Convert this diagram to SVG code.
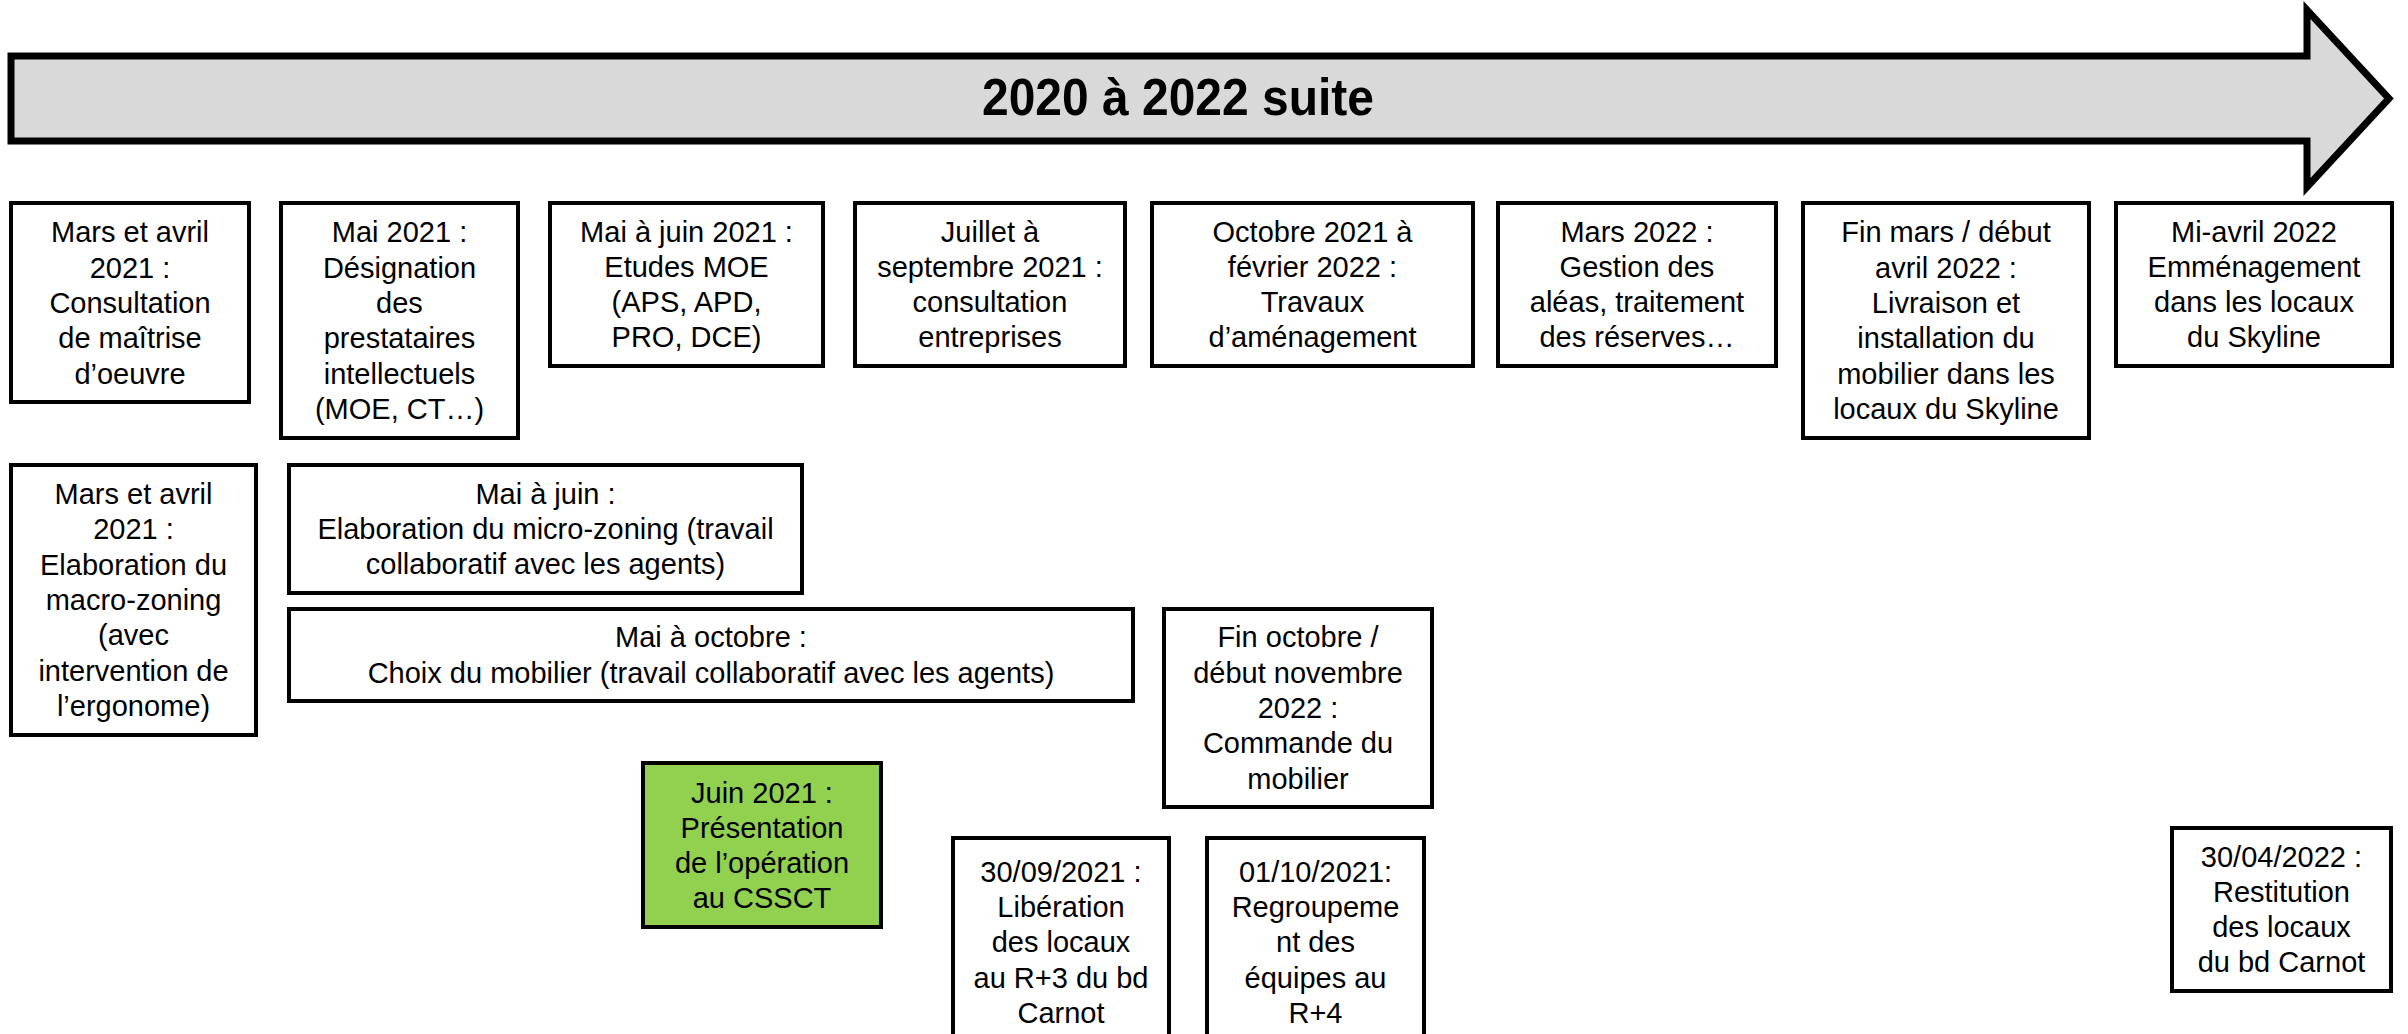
<svg xmlns="http://www.w3.org/2000/svg" width="2408" height="1034" viewBox="0 0 2408 1034">
<style>
.box{fill:#ffffff;stroke:#000000;stroke-width:4}
.green{fill:#92d050;stroke:#000000;stroke-width:4}
.t{font-family:"Liberation Sans",Arial,sans-serif;font-size:29px;fill:#000000;text-anchor:middle}
.title{font-family:"Liberation Sans",Arial,sans-serif;font-size:52px;font-weight:bold;fill:#000000;text-anchor:middle}
</style>
<rect width="2408" height="1034" fill="#ffffff"/>
<g id="timeline">
<path d="M11,56 L2307,56 L2307,10 L2389,98.5 L2307,187 L2307,141 L11,141 Z" fill="#d9d9d9" stroke="#000000" stroke-width="7" stroke-linejoin="miter"/>
<text class="title" x="1178" y="115" textLength="392" lengthAdjust="spacingAndGlyphs">2020 à 2022 suite</text>
</g>
<g id="connectors"></g>
<g id="n1"><rect class="box" x="11" y="203" width="238" height="199"/>
<text class="t" x="130"><tspan x="130" y="242.4">Mars et avril</tspan><tspan x="130" y="277.7">2021 :</tspan><tspan x="130" y="313">Consultation</tspan><tspan x="130" y="348.3">de maîtrise</tspan><tspan x="130" y="383.6">d’oeuvre</tspan></text></g>
<g id="n2"><rect class="box" x="281" y="203" width="237" height="235"/>
<text class="t"><tspan x="399.5" y="242.3">Mai 2021 :</tspan><tspan x="399.5" y="277.6">Désignation</tspan><tspan x="399.5" y="312.9">des</tspan><tspan x="399.5" y="348.2">prestataires</tspan><tspan x="399.5" y="383.5">intellectuels</tspan><tspan x="399.5" y="418.8">(MOE, CT…)</tspan></text></g>
<g id="n3"><rect class="box" x="550" y="203" width="273" height="163"/>
<text class="t"><tspan x="686.5" y="241.5">Mai à juin 2021 :</tspan><tspan x="686.5" y="276.8">Etudes MOE</tspan><tspan x="686.5" y="312.1">(APS, APD,</tspan><tspan x="686.5" y="347.4">PRO, DCE)</tspan></text></g>
<g id="n4"><rect class="box" x="855" y="203" width="270" height="163"/>
<text class="t"><tspan x="990" y="241.5">Juillet à</tspan><tspan x="990" y="276.8">septembre 2021 :</tspan><tspan x="990" y="312.1">consultation</tspan><tspan x="990" y="347.4">entreprises</tspan></text></g>
<g id="n5"><rect class="box" x="1152" y="203" width="321" height="163"/>
<text class="t"><tspan x="1312.5" y="241.5">Octobre 2021 à</tspan><tspan x="1312.5" y="276.8">février 2022 :</tspan><tspan x="1312.5" y="312.1">Travaux</tspan><tspan x="1312.5" y="347.4">d’aménagement</tspan></text></g>
<g id="n6"><rect class="box" x="1498" y="203" width="278" height="163"/>
<text class="t"><tspan x="1637" y="241.5">Mars 2022 :</tspan><tspan x="1637" y="276.8">Gestion des</tspan><tspan x="1637" y="312.1">aléas, traitement</tspan><tspan x="1637" y="347.4">des réserves…</tspan></text></g>
<g id="n7"><rect class="box" x="1803" y="203" width="286" height="235"/>
<text class="t"><tspan x="1946" y="242.3">Fin mars / début</tspan><tspan x="1946" y="277.6">avril 2022 :</tspan><tspan x="1946" y="312.9">Livraison et</tspan><tspan x="1946" y="348.2">installation du</tspan><tspan x="1946" y="383.5">mobilier dans les</tspan><tspan x="1946" y="418.8">locaux du Skyline</tspan></text></g>
<g id="n8"><rect class="box" x="2116" y="203" width="276" height="163"/>
<text class="t"><tspan x="2254" y="241.5">Mi-avril 2022</tspan><tspan x="2254" y="276.8">Emménagement</tspan><tspan x="2254" y="312.1">dans les locaux</tspan><tspan x="2254" y="347.4">du Skyline</tspan></text></g>
<g id="n9"><rect class="box" x="11" y="465" width="245" height="270"/>
<text class="t"><tspan x="133.5" y="504.1">Mars et avril</tspan><tspan x="133.5" y="539.4">2021 :</tspan><tspan x="133.5" y="574.7">Elaboration du</tspan><tspan x="133.5" y="610">macro-zoning</tspan><tspan x="133.5" y="645.3">(avec</tspan><tspan x="133.5" y="680.6">intervention de</tspan><tspan x="133.5" y="715.9">l’ergonome)</tspan></text></g>
<g id="n10"><rect class="box" x="289" y="465" width="513" height="128"/>
<text class="t"><tspan x="545.5" y="503.7">Mai à juin :</tspan><tspan x="545.5" y="539">Elaboration du micro-zoning (travail</tspan><tspan x="545.5" y="574.3">collaboratif avec les agents)</tspan></text></g>
<g id="n11"><rect class="box" x="289" y="609" width="844" height="92"/>
<text class="t"><tspan x="711" y="647.3">Mai à octobre :</tspan><tspan x="711" y="682.6">Choix du mobilier (travail collaboratif avec les agents)</tspan></text></g>
<g id="n12"><rect class="box" x="1164" y="609" width="268" height="198"/>
<text class="t"><tspan x="1298" y="647.4">Fin octobre /</tspan><tspan x="1298" y="682.7">début novembre</tspan><tspan x="1298" y="718">2022 :</tspan><tspan x="1298" y="753.3">Commande du</tspan><tspan x="1298" y="788.6">mobilier</tspan></text></g>
<g id="n13"><rect class="green" x="643" y="763" width="238" height="164"/>
<text class="t"><tspan x="762" y="802.5">Juin 2021 :</tspan><tspan x="762" y="837.8">Présentation</tspan><tspan x="762" y="873.1">de l’opération</tspan><tspan x="762" y="908.4">au CSSCT</tspan></text></g>
<g id="n14"><rect class="box" x="953" y="838" width="216" height="210"/>
<text class="t"><tspan x="1061" y="881.7">30/09/2021 :</tspan><tspan x="1061" y="917">Libération</tspan><tspan x="1061" y="952.3">des locaux</tspan><tspan x="1061" y="987.6">au R+3 du bd</tspan><tspan x="1061" y="1022.9">Carnot</tspan></text></g>
<g id="n15"><rect class="box" x="1207" y="838" width="217" height="210"/>
<text class="t"><tspan x="1315.5" y="881.7">01/10/2021:</tspan><tspan x="1315.5" y="917">Regroupeme</tspan><tspan x="1315.5" y="952.3">nt des</tspan><tspan x="1315.5" y="987.6">équipes au</tspan><tspan x="1315.5" y="1022.9">R+4</tspan></text></g>
<g id="n16"><rect class="box" x="2172" y="828" width="219" height="163"/>
<text class="t"><tspan x="2281.5" y="866.5">30/04/2022 :</tspan><tspan x="2281.5" y="901.8">Restitution</tspan><tspan x="2281.5" y="937.1">des locaux</tspan><tspan x="2281.5" y="972.4">du bd Carnot</tspan></text></g>
</svg>
